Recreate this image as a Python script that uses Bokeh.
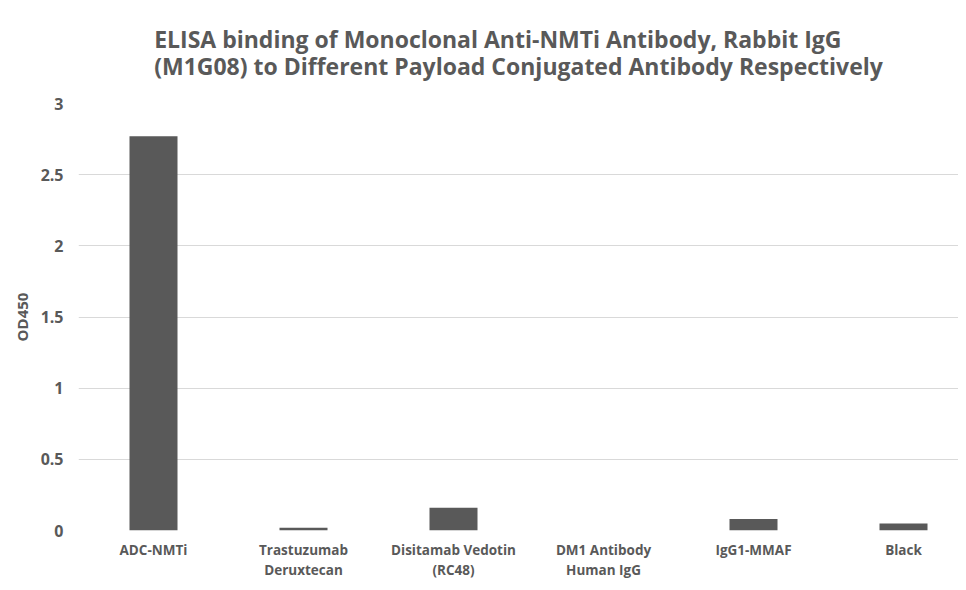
from bokeh.plotting import figure
from bokeh.models import Range1d, FixedTicker, Title, ColumnDataSource
from bokeh.embed import file_html
from bokeh.resources import INLINE

categories = ["ADC-NMTi", "Trastuzumab\nDeruxtecan", "Disitamab Vedotin\n(RC48)",
              "DM1 Antibody\nHuman IgG", "IgG1-MMAF", "Black"]
od450 = [2.77, 0.02, 0.16, 0.0, 0.08, 0.05]
y_ticks = [0, 0.5, 1, 1.5, 2, 2.5, 3]
y_tick_labels = ["0", "0.5", "1", "1.5", "2", "2.5", "3"]
title_lines = ["ELISA binding of Monoclonal Anti-NMTi Antibody, Rabbit IgG",
               "(M1G08) to Different Payload Conjugated Antibody Respectively"]

FONT = "Open Sans"
GREY = "#595959"

xs = list(range(len(categories)))
src = ColumnDataSource(dict(x=xs, top=od450))

W, H = 958, 582
LEFT = 78
p = figure(width=W, height=H, output_backend="svg", toolbar_location=None,
           x_range=Range1d(-0.5, -0.5 + (W - LEFT) / 150.0),
           y_range=Range1d(0, 3),
           min_border_left=LEFT, min_border_right=0, min_border_top=103,
           min_border_bottom=0)
p.outline_line_color = None
p.background_fill_color = "white"
p.border_fill_color = "white"

p.vbar(x="x", top="top", width=0.32, bottom=0, source=src,
       fill_color="#595959", line_color=None)

p.xaxis.ticker = FixedTicker(ticks=xs)
p.xaxis.major_label_overrides = {i: c for i, c in enumerate(categories)}
p.yaxis.ticker = FixedTicker(ticks=y_ticks)
p.yaxis.major_label_overrides = {t: l for t, l in zip(y_ticks, y_tick_labels)}

for ax in (p.xaxis[0], p.yaxis[0]):
    ax.axis_line_color = None
    ax.major_tick_line_color = None
    ax.minor_tick_line_color = None
    ax.major_tick_out = 0
    ax.major_tick_in = 0
    ax.minor_tick_out = 0
    ax.minor_tick_in = 0
    ax.major_label_text_font = FONT
    ax.major_label_text_font_style = "bold"
    ax.major_label_text_color = GREY

p.xaxis.major_label_text_font_size = "13.5px"
p.yaxis.major_label_text_font_size = "16px"
p.xaxis.axis_label = None
p.xaxis.axis_label_standoff = 0
p.xaxis.major_label_standoff = 10
p.xaxis.major_label_text_line_height = 1.15
p.yaxis.major_label_standoff = 15
p.yaxis.axis_label = "OD450"
p.yaxis.axis_label_text_font = FONT
p.yaxis.axis_label_text_font_style = "bold"
p.yaxis.axis_label_text_font_size = "15px"
p.yaxis.axis_label_text_color = GREY
p.yaxis.axis_label_standoff = 6

p.xgrid.grid_line_color = None
p.ygrid.grid_line_color = "#d9d9d9"
p.ygrid.grid_line_width = 1

p.add_layout(Title(text="\n".join(title_lines), align="center", text_font=FONT,
                   text_font_style="bold", text_font_size="23px",
                   text_line_height=0.85, text_color=GREY, standoff=42), "above")

open("out.html", "w").write(file_html(p, INLINE))
